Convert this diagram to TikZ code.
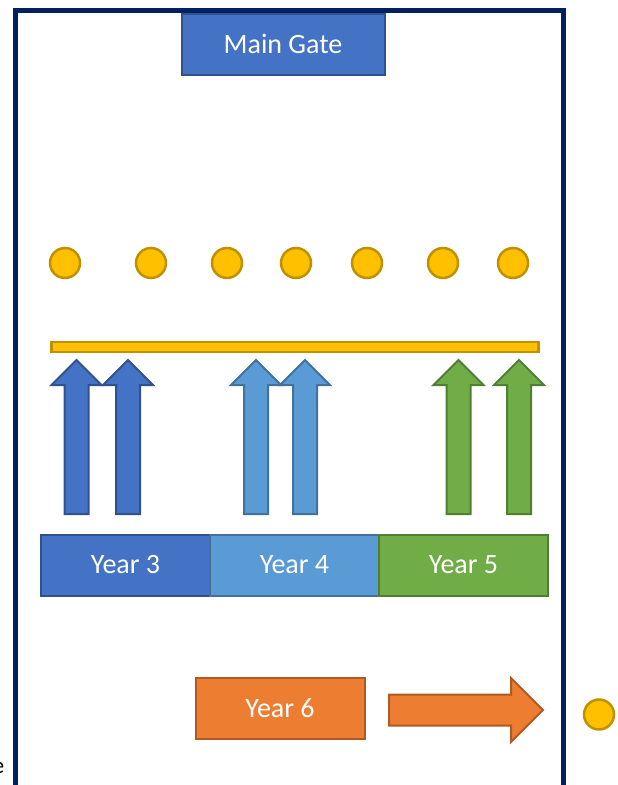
\documentclass[tikz,border=0pt]{standalone}
\usepackage{fontspec}
\setmainfont{Carlito}
\usepackage{xcolor}
\usetikzlibrary{positioning}

\definecolor{navy}{HTML}{002060}
\definecolor{gateblue}{HTML}{4472C4}
\definecolor{gateline}{HTML}{2F528F}
\definecolor{skyblue}{HTML}{5B9BD5}
\definecolor{skyline}{HTML}{41719C}
\definecolor{leafgreen}{HTML}{70AD47}
\definecolor{leafline}{HTML}{507E32}
\definecolor{sixorange}{HTML}{ED7D31}
\definecolor{sixline}{HTML}{AE5A21}
\definecolor{gold}{HTML}{FFC000}
\definecolor{goldline}{HTML}{BF9000}

\begin{document}
\begin{tikzpicture}[x=1pt,y=-1pt]
\tikzstyle{yearbox} = [rectangle, minimum width=169pt, minimum height=61pt, inner sep=0pt, outer sep=0pt, text=white, font=\fontsize{28}{30}\selectfont, line width=2pt]
\tikzstyle{dot} = [circle, minimum size=30pt, inner sep=0pt, fill=gold, draw=goldline, line width=2.5pt]
\tikzstyle{three} = [fill=gateblue, draw=gateline, line width=2pt]
\tikzstyle{four} = [fill=skyblue, draw=skyline, line width=2pt]
\tikzstyle{five} = [fill=leafgreen, draw=leafline, line width=2pt]
\tikzstyle{six} = [fill=sixorange, draw=sixline, line width=2pt]

\useasboundingbox (0,0) rectangle (618,785);

% playground fence
\draw[navy, line width=5.5pt] (15.5,800) -- (15.5,10.3) -- (563.7,10.3) -- (563.7,800);

\node (gate) [yearbox, three, minimum width=203pt, minimum height=61pt] at (283,44) {Main Gate};

% waiting spots
\foreach \x [count=\i] in {65,151,227,296,367,443,513}
  \node (spot\i) [dot] at (\x,263) {};

\node (line) [rectangle, minimum width=487pt, minimum height=10pt, inner sep=0pt, fill=gold, draw=goldline, line width=2.5pt] at (295,347) {};

% walking arrows
\foreach \x/\s in {76.5/three, 128/three, 256/four, 305/four, 458.5/five, 519/five}
  \draw[\s] ({\x-12},514) -- ({\x-12},385) -- ({\x-25},385) -- (\x,360)
    -- ({\x+25},385) -- ({\x+12},385) -- ({\x+12},514) -- cycle;

\node (year3) [yearbox, three] at (125.5,565) {Year 3};
\node (year4) [yearbox, four, right=0pt of year3] {Year 4};
\node (year5) [yearbox, five, right=0pt of year4] {Year 5};

\node (year6) [yearbox, six, minimum width=169pt] at (280,708) {Year 6};
\draw[six] (389,694.5) -- (511,694.5) -- (511,678) -- (543,710) -- (511,742)
  -- (511,725.5) -- (389,725.5) -- cycle;

\node (exit) [dot] at (599,714.5) {};

\node (cut) [anchor=base east, inner sep=0pt, font=\fontsize{23}{25}\selectfont] at (4.5,773) {e};
\end{tikzpicture}
\end{document}
